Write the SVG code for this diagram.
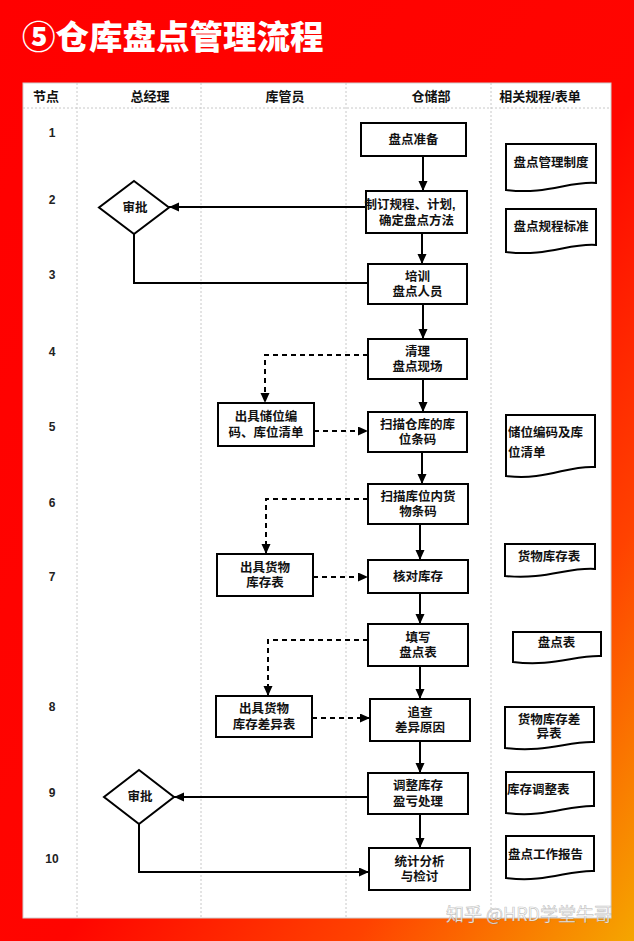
<svg xmlns="http://www.w3.org/2000/svg" width="634" height="941" viewBox="0 0 634 941">
<defs>
<linearGradient id="bg" x1="0" y1="0" x2="1" y2="1">
<stop offset="0" stop-color="#ff0000"/>
<stop offset="0.55" stop-color="#ff0500"/>
<stop offset="0.78" stop-color="#ff4200"/>
<stop offset="1" stop-color="#f5a600"/>
</linearGradient>
<marker id="ah" markerUnits="userSpaceOnUse" markerWidth="11" markerHeight="10" refX="10" refY="4.5" orient="auto">
<path d="M0,0 L10,4.5 L0,9 Z" fill="#000"/>
</marker>
<style>
.t{font-family:"Liberation Sans","Noto Sans CJK SC",sans-serif;font-size:12.5px;font-weight:bold;fill:#111;text-anchor:middle;dominant-baseline:central}
.tl{text-anchor:start}
.h{font-size:13px}
.n{font-family:"Liberation Sans",sans-serif;font-size:12px;font-weight:bold;fill:#222;text-anchor:middle;dominant-baseline:central}
.box{fill:#fff;stroke:#000;stroke-width:2}
.div{stroke:#c8c8c8;stroke-width:1;stroke-dasharray:2 2;fill:none}
.ln{stroke:#000;stroke-width:2;fill:none}
.ds{stroke:#000;stroke-width:2;fill:none;stroke-dasharray:5 4}
</style>
</defs>
<rect x="0" y="0" width="634" height="941" fill="url(#bg)"/>
<text x="22" y="49" style="font-family:'Noto Sans CJK SC',sans-serif;font-size:33.5px;font-weight:900;fill:#fff">⑤仓库盘点管理流程</text>

<g id="table">
<rect x="23" y="83" width="588" height="835" fill="#fff" stroke="#d0d0d0" stroke-width="1"/>
<line class="div" x1="23" y1="108" x2="611" y2="108"/>
<line class="div" x1="77" y1="83" x2="77" y2="918"/>
<line class="div" x1="201" y1="83" x2="201" y2="918"/>
<line class="div" x1="346" y1="83" x2="346" y2="918"/>
<line class="div" x1="491" y1="83" x2="491" y2="918"/>
<text class="t h" x="46" y="96">节点</text>
<text class="t h" x="150" y="96">总经理</text>
<text class="t h" x="285" y="96">库管员</text>
<text class="t h" x="431" y="96">仓储部</text>
<text class="t h" x="540" y="96">相关规程/表单</text>
<text class="n" x="52" y="133">1</text>
<text class="n" x="52" y="200">2</text>
<text class="n" x="52" y="275">3</text>
<text class="n" x="52" y="352">4</text>
<text class="n" x="52" y="427">5</text>
<text class="n" x="52" y="503">6</text>
<text class="n" x="52" y="577">7</text>
<text class="n" x="52" y="707">8</text>
<text class="n" x="52" y="793">9</text>
<text class="n" x="52" y="859">10</text>
</g>

<g id="connectors">
<line class="ln" x1="423" y1="156" x2="423" y2="191" marker-end="url(#ah)"/>
<line class="ln" x1="422" y1="233" x2="422" y2="264" marker-end="url(#ah)"/>
<line class="ln" x1="423" y1="304" x2="423" y2="339" marker-end="url(#ah)"/>
<line class="ln" x1="423" y1="379" x2="423" y2="412" marker-end="url(#ah)"/>
<line class="ln" x1="422" y1="452" x2="422" y2="484" marker-end="url(#ah)"/>
<line class="ln" x1="420" y1="524" x2="420" y2="560" marker-end="url(#ah)"/>
<line class="ln" x1="420" y1="593" x2="420" y2="624" marker-end="url(#ah)"/>
<line class="ln" x1="420" y1="666" x2="420" y2="699" marker-end="url(#ah)"/>
<line class="ln" x1="420" y1="741" x2="420" y2="773" marker-end="url(#ah)"/>
<line class="ln" x1="420" y1="814" x2="420" y2="848" marker-end="url(#ah)"/>
<line class="ln" x1="366" y1="207" x2="169" y2="207" marker-end="url(#ah)"/>
<polyline class="ln" points="134,234 134,283 368,283"/>
<line class="ln" x1="368" y1="797" x2="174" y2="797" marker-end="url(#ah)"/>
<polyline class="ln" points="139,824 139,872 369,872" marker-end="url(#ah)"/>
<polyline class="ds" points="368,355 265,355 265,403" marker-end="url(#ah)"/>
<line class="ds" x1="314" y1="431" x2="368" y2="431" marker-end="url(#ah)"/>
<polyline class="ds" points="368,499 266,499 266,554" marker-end="url(#ah)"/>
<line class="ds" x1="313" y1="577" x2="368" y2="577" marker-end="url(#ah)"/>
<polyline class="ds" points="368,640 268,640 268,696" marker-end="url(#ah)"/>
<line class="ds" x1="312" y1="718" x2="370" y2="718" marker-end="url(#ah)"/>
</g>

<g id="n1"><rect class="box" x="361" y="123" width="105" height="33"/><text class="t" x="413.5" y="139.5">盘点准备</text></g>
<g id="n2"><rect class="box" x="366" y="191" width="101" height="42"/><text class="t" x="410" y="204.5">制订规程、计划,</text><text class="t" x="416.5" y="220.5">确定盘点方法</text></g>
<g id="n3"><rect class="box" x="368" y="264" width="99" height="40"/><text class="t" x="417.5" y="276.5">培训</text><text class="t" x="417.5" y="292">盘点人员</text></g>
<g id="n4"><rect class="box" x="368" y="339" width="99" height="40"/><text class="t" x="417.5" y="351.5">清理</text><text class="t" x="417.5" y="367">盘点现场</text></g>
<g id="n5"><rect class="box" x="368" y="412" width="99" height="40"/><text class="t" x="417.5" y="424.5">扫描仓库的库</text><text class="t" x="417.5" y="440">位条码</text></g>
<g id="n6"><rect class="box" x="218" y="403" width="96" height="43"/><text class="t" x="266" y="417">出具储位编</text><text class="t" x="266" y="432.5">码、库位清单</text></g>
<g id="n7"><rect class="box" x="368" y="484" width="100" height="40"/><text class="t" x="418" y="496.5">扫描库位内货</text><text class="t" x="418" y="512">物条码</text></g>
<g id="n8"><rect class="box" x="217" y="554" width="96" height="42"/><text class="t" x="265" y="567.5">出具货物</text><text class="t" x="265" y="583">库存表</text></g>
<g id="n9"><rect class="box" x="368" y="560" width="100" height="33"/><text class="t" x="418" y="576.5">核对库存</text></g>
<g id="n10"><rect class="box" x="368" y="624" width="100" height="42"/><text class="t" x="418" y="637.5">填写</text><text class="t" x="418" y="653">盘点表</text></g>
<g id="n11"><rect class="box" x="216" y="696" width="96" height="41"/><text class="t" x="264" y="709">出具货物</text><text class="t" x="264" y="724.5">库存差异表</text></g>
<g id="n12"><rect class="box" x="370" y="699" width="100" height="42"/><text class="t" x="420" y="712.5">追查</text><text class="t" x="420" y="728">差异原因</text></g>
<g id="n13"><rect class="box" x="368" y="773" width="100" height="41"/><text class="t" x="418" y="786">调整库存</text><text class="t" x="418" y="801.5">盈亏处理</text></g>
<g id="n14"><rect class="box" x="369" y="848" width="101" height="42"/><text class="t" x="419.5" y="861.5">统计分析</text><text class="t" x="419.5" y="877">与检讨</text></g>

<g id="d1"><polygon class="box" points="134,181 169,207.5 134,234 99,207.5"/><text class="t" x="135" y="207.5">审批</text></g>
<g id="d2"><polygon class="box" points="139,770 174,797 139,824 104,797"/><text class="t" x="140" y="797">审批</text></g>

<g id="doc1"><path class="box" d="M506,144 H596 V183 C569,181 547,195 506,190 Z"/><text class="t" x="551" y="163">盘点管理制度</text></g>
<g id="doc2"><path class="box" d="M506,209 H596 V245 C569,243 547,257 506,252 Z"/><text class="t" x="551" y="227">盘点规程标准</text></g>
<g id="doc3"><path class="box" d="M506,415 H595 V467 C568,465 546,481 506,476 Z"/><text class="t tl" x="508" y="433">储位编码及库</text><text class="t tl" x="508" y="453">位清单</text></g>
<g id="doc4"><path class="box" d="M505,544 H595 V569 C568,567 546,580 505,576 Z"/><text class="t" x="549" y="556.5">货物库存表</text></g>
<g id="doc5"><path class="box" d="M513,632 H601 V656 C575,655 553,667 513,662 Z"/><text class="t" x="556.5" y="643">盘点表</text></g>
<g id="doc6"><path class="box" d="M505,707 H594 V742 C568,741 546,753 505,748 Z"/><text class="t" x="549" y="720">货物库存差</text><text class="t" x="549" y="734">异表</text></g>
<g id="doc7"><path class="box" d="M506,772 H594 V806 C568,805 546,818 506,813 Z"/><text class="t tl" x="507" y="790">库存调整表</text></g>
<g id="doc8"><path class="box" d="M506,836 H594 V871 C568,870 546,883 506,878 Z"/><text class="t tl" x="508" y="855">盘点工作报告</text></g>

<text x="446" y="921" style="font-family:'Noto Sans CJK SC',sans-serif;font-size:18px;fill:#fff;fill-opacity:0.9;stroke:#777;stroke-opacity:0.45;stroke-width:0.7">知乎 @HRD学堂牛哥</text>
</svg>
